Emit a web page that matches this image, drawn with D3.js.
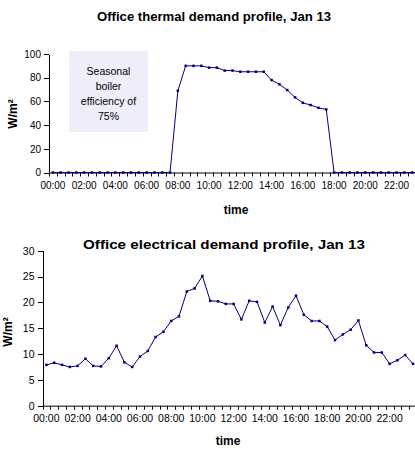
<!DOCTYPE html>
<html><head><meta charset="utf-8">
<script src="https://cdn.jsdelivr.net/npm/d3@7"></script>
<style>body{margin:0;background:#fff}svg{display:block}text{font-family:"Liberation Sans",Arial,sans-serif}</style>
</head><body><svg id="c" width="415" height="450"></svg>
<script>
const times = d3.range(48).map(i => String(Math.floor(i/2)).padStart(2,"0") + ":" + (i%2 ? "30" : "00"));
const thermal = [0,0,0,0,0,0,0,0,0,0,0,0,0,0,0,0,
  69,90,90,90,88.5,88.5,86,86,85,85,85,85,
  78,74.4,69.6,63.4,58.8,56.9,54.6,53.2,
  0,0,0,0,0,0,0,0,0,0,0,0];
const electrical = [7.9,8.3,7.9,7.5,7.7,9.1,7.7,7.6,9.2,11.6,8.4,7.5,9.5,10.6,13.3,14.3,16.4,17.3,22.1,22.7,25.1,
  20.3,20.2,19.7,19.7,16.7,20.3,20.1,16.1,19.2,15.6,19.0,21.3,17.6,16.4,16.4,15.3,12.7,13.8,14.7,16.5,11.7,10.3,10.3,8.1,8.8,9.8,8.1];
const thermalTicks = [0,20,40,60,80,100];
const electricalTicks = [0,5,10,15,20,25,30];
const labelTimes = times.filter((t,i)=> i%4===0);
const noteLines = ["Seasonal","boiler","efficiency of","75%"];

const svg = d3.select("#c");
const navy = "#000080";

function chart(cfg){
  const g = svg.append("g");
  const x = d3.scaleBand().domain(times).range([cfg.x0, cfg.x0 + 48*cfg.bw]);
  const y = d3.scaleLinear().domain([0, cfg.ymax]).range([cfg.y0, cfg.y1]);
  if (cfg.note) cfg.note(g, x, y);
  const ya = g.append("g").attr("transform",`translate(${cfg.x0},0)`)
    .call(d3.axisLeft(y).tickValues(cfg.yticks).tickSize(5).tickPadding(3).tickSizeOuter(0));
  ya.select(".domain").attr("stroke","#000").attr("shape-rendering","crispEdges");
  ya.selectAll(".tick line").attr("stroke","#000").attr("shape-rendering","crispEdges");
  ya.selectAll("text").attr("font-size",cfg.fs).attr("fill","#000").attr("font-family","Liberation Sans, Arial");
  const xa = g.append("g").attr("transform",`translate(0,${cfg.y0})`)
    .call(d3.axisBottom(x).tickValues(labelTimes).tickSize(0).tickPadding(9));
  xa.select(".domain").remove();
  xa.selectAll("text").attr("font-size",cfg.fs).attr("fill","#000").attr("font-family","Liberation Sans, Arial");
  g.append("line").attr("x1",cfg.x0).attr("x2",cfg.x0+48*cfg.bw).attr("y1",cfg.y0+0.5).attr("y2",cfg.y0+0.5).attr("stroke","#000");
  g.selectAll(".xt").data(d3.range(49)).join("line")
    .attr("x1",i=>Math.round(cfg.x0+i*cfg.bw)+0.5).attr("x2",i=>Math.round(cfg.x0+i*cfg.bw)+0.5)
    .attr("y1",cfg.y0).attr("y2",cfg.y0+4).attr("stroke","#000");
  const data = cfg.data.map((v,i)=>({t:times[i], v}));
  const cx = d => x(d.t) + x.bandwidth()/2;
  g.append("path").datum(data).attr("fill","none").attr("stroke",navy).attr("stroke-width",1)
    .attr("d", d3.line().x(cx).y(d=>y(d.v)));
  g.selectAll(".m").data(data).join("rect")
    .attr("x",d=>cx(d)-1.25).attr("y",d=>y(d.v)-1.25).attr("width",2.5).attr("height",2.5).attr("fill",navy);
  g.append("text").attr("x",cfg.tx).attr("y",cfg.ty).attr("text-anchor","middle").attr("font-weight","bold")
    .attr("font-size",12).attr("textLength",cfg.tl).attr("lengthAdjust","spacingAndGlyphs").text(cfg.title);
  g.append("text").attr("x",cfg.timex).attr("y",cfg.timey).attr("text-anchor","middle").attr("font-weight","bold")
    .attr("font-size",12).text("time");
  g.append("text").attr("transform",`translate(${cfg.wx},${cfg.wy}) rotate(-90)`).attr("text-anchor","middle")
    .attr("font-weight","bold").attr("font-size",12).text("W/m²");
}

chart({x0:49,bw:7.81,y0:172.5,y1:54,ymax:100,yticks:thermalTicks,data:thermal,fs:10,
  title:"Office thermal demand profile, Jan 13",tx:214,ty:21,tl:234,timex:236,timey:214,wx:17,wy:114,
  note:(g,x,y)=>{
    g.append("rect").attr("x",69).attr("y",51).attr("width",79).attr("height",81).attr("fill","#EEEEF8");
    g.selectAll(".nl").data(noteLines).join("text").attr("x",108.5).attr("y",(d,i)=>74.5+i*15.2)
      .attr("text-anchor","middle").attr("font-size",10.5).text(d=>d);
  }});
chart({x0:42.5,bw:7.8,y0:405.7,y1:250.7,ymax:30,yticks:electricalTicks,data:electrical,fs:10.5,
  title:"Office electrical demand profile, Jan 13",tx:224,ty:249,tl:282,timex:228,timey:445,wx:12,wy:332});
</script></body></html>
